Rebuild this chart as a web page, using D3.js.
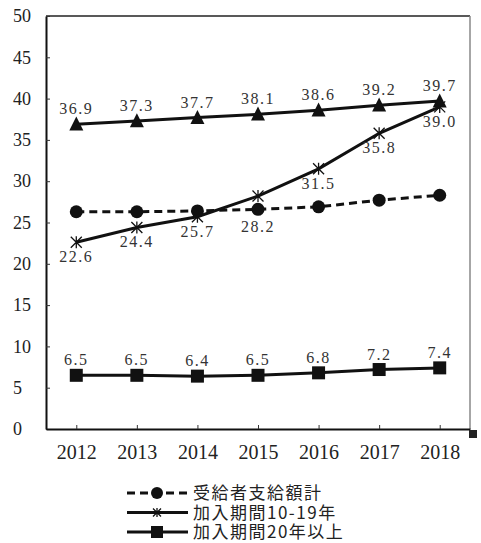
<!DOCTYPE html>
<html lang="ja">
<head>
<meta charset="UTF-8">
<title>受給者支給額</title>
<style>
    body { margin: 0; padding: 0; background: #fff; }
    svg { display: block; }
    .tick text { font-family: "Liberation Serif", serif; fill: #222; }
    .val { font-family: "Liberation Serif", serif; font-size: 16px; fill: #333; letter-spacing: 1.5px; text-anchor: middle; }
    .legend text { font-family: "Noto Sans CJK JP", sans-serif; font-size: 17px; fill: #222; letter-spacing: 1.5px; }
</style>
</head>
<body>
<div id="chart"></div>
<script src="https://d3js.org/d3.v7.min.js"></script>
<script>
    // data
    const years = ["2012", "2013", "2014", "2015", "2016", "2017", "2018"];
    const totalPay = [26.3, 26.3, 26.4, 26.6, 26.9, 27.7, 28.3];      // 受給者支給額計 (no labels)
    const period10to19 = [22.6, 24.4, 25.7, 28.2, 31.5, 35.8, 39.0];  // 加入期間10-19年
    const period20plus = [6.5, 6.5, 6.4, 6.5, 6.8, 7.2, 7.4];         // 加入期間20年以上
    const topSeries = [36.9, 37.3, 37.7, 38.1, 38.6, 39.2, 39.7];     // triangle, not in legend
    const yTicks = [0, 5, 10, 15, 20, 25, 30, 35, 40, 45, 50];
    const legendLabels = ["受給者支給額計", "加入期間10-19年", "加入期間20年以上"];

    const W = 481, H = 543;
    const m = { left: 46, right: 470, top: 16, bottom: 429 };

    const svg = d3.select("#chart").append("svg")
        .attr("width", W)
        .attr("height", H);

    const x = d3.scalePoint().domain(years).range([m.left, m.right]).padding(0.5);
    const y = d3.scaleLinear().domain([0, 50]).range([m.bottom, m.top]);

    // frame: top and right lines
    svg.append("line")
        .attr("x1", m.left).attr("x2", m.right).attr("y1", m.top).attr("y2", m.top)
        .attr("stroke", "#222").attr("stroke-width", 1.5);
    svg.append("line")
        .attr("x1", m.right).attr("x2", m.right).attr("y1", m.top).attr("y2", m.bottom)
        .attr("stroke", "#888").attr("stroke-width", 1.5);

    // y axis
    const yAxis = svg.append("g")
        .attr("transform", "translate(" + m.left + ",0)")
        .call(d3.axisLeft(y).tickValues(yTicks).tickSizeInner(-4).tickSizeOuter(0));
    yAxis.select(".domain").attr("stroke", "#111").attr("stroke-width", 2);
    yAxis.selectAll(".tick line").attr("stroke", "#333");
    yAxis.selectAll(".tick text")
        .attr("x", 13 - m.left)
        .attr("text-anchor", "start")
        .style("font-size", "18px");

    // x axis
    const xAxis = svg.append("g")
        .attr("transform", "translate(0," + m.bottom + ")")
        .call(d3.axisBottom(x).tickSizeInner(-4).tickSizeOuter(0).tickPadding(16));
    xAxis.select(".domain").attr("stroke", "#111").attr("stroke-width", 2);
    xAxis.selectAll(".tick line").attr("stroke", "#333");
    xAxis.selectAll(".tick text").style("font-size", "20px");

    // little dark square at the bottom right corner
    svg.append("rect")
        .attr("x", m.right - 1).attr("y", m.bottom + 1)
        .attr("width", 8).attr("height", 8)
        .attr("fill", "#222");

    const line = d3.line()
        .x((d, i) => x(years[i]))
        .y(d => y(d));

    function drawLine(values, dashed) {
        svg.append("path")
            .datum(values)
            .attr("d", line)
            .attr("fill", "none")
            .attr("stroke", "#111")
            .attr("stroke-width", 3)
            .attr("stroke-dasharray", dashed ? "8,5" : null);
    }

    function asterisk(g, s) {
        const d = s / 2;
        g.append("path")
            .attr("d", "M" + (-d) + "," + (-d) + "L" + d + "," + d +
                "M" + (-d) + "," + d + "L" + d + "," + (-d) +
                "M0," + (-d * 1.1) + "L0," + (d * 1.1))
            .attr("stroke", "#111")
            .attr("stroke-width", 1.3)
            .attr("fill", "none");
    }

    function marker(g, type, s) {
        if (type === "circle") {
            g.append("circle").attr("r", s / 2).attr("fill", "#111");
        } else if (type === "square") {
            g.append("rect").attr("x", -s / 2).attr("y", -s / 2)
                .attr("width", s).attr("height", s).attr("fill", "#111");
        } else if (type === "triangle") {
            g.append("path")
                .attr("d", "M0," + (-s * 0.55) + "L" + (s / 2) + "," + (s * 0.45) + "L" + (-s / 2) + "," + (s * 0.45) + "Z")
                .attr("fill", "#111");
        } else {
            asterisk(g, s);
        }
    }

    function drawMarkers(values, type, s) {
        values.forEach((v, i) => {
            const g = svg.append("g")
                .attr("transform", "translate(" + x(years[i]) + "," + y(v) + ")");
            marker(g, type, s);
        });
    }

    // extra vertical push for labels that would sit on another series
    function drawLabels(values, dy, nudge) {
        nudge = nudge || {};
        svg.selectAll(null)
            .data(values)
            .enter().append("text")
            .attr("class", "val")
            .attr("x", (d, i) => x(years[i]))
            .attr("y", (d, i) => y(d) + dy + (nudge[years[i]] || 0))
            .text(d => d.toFixed(1));
    }

    drawLine(totalPay, true);
    drawLine(period10to19, false);
    drawLine(topSeries, false);
    drawLine(period20plus, false);

    drawMarkers(totalPay, "circle", 13);
    drawMarkers(topSeries, "triangle", 14);
    drawMarkers(period20plus, "square", 13);
    drawMarkers(period10to19, "asterisk", 11);

    drawLabels(topSeries, -10);
    drawLabels(period10to19, 20, { "2015": 16 });
    drawLabels(period20plus, -10);

    // legend
    const legendTypes = ["circle", "asterisk", "square"];
    const legendSizes = [12, 8, 12];
    const legend = svg.append("g").attr("class", "legend");
    legendLabels.forEach((name, i) => {
        const ly = 493 + i * 19.5;
        legend.append("line")
            .attr("x1", 127).attr("x2", 188).attr("y1", ly).attr("y2", ly)
            .attr("stroke", "#111").attr("stroke-width", 3)
            .attr("stroke-dasharray", i === 0 ? "8,5" : null);
        const g = legend.append("g").attr("transform", "translate(157," + ly + ")");
        marker(g, legendTypes[i], legendSizes[i]);
        legend.append("text")
            .attr("x", 193)
            .attr("y", ly)
            .attr("dy", "0.36em")
            .text(name);
    });
</script>
</body>
</html>
